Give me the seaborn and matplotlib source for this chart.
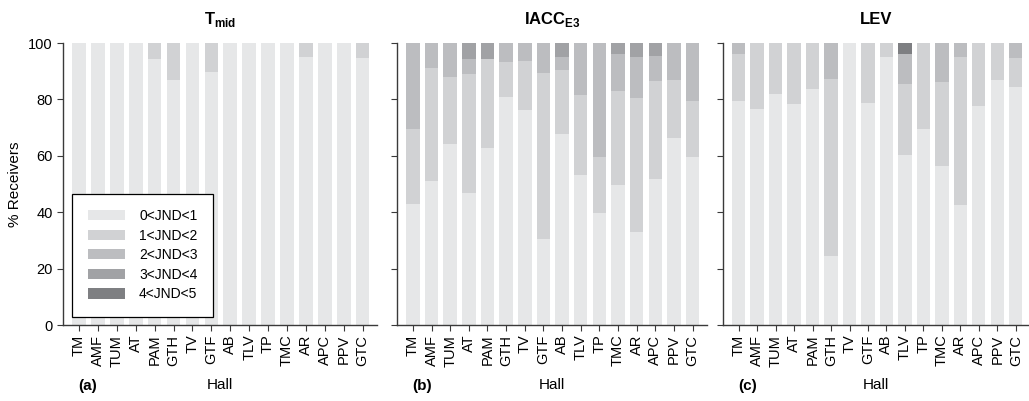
import numpy as np
import pandas as pd
import matplotlib
matplotlib.use("Agg")
import matplotlib.pyplot as plt
from matplotlib.patches import Patch
import seaborn as sns

# --- Halls (same order in all three panels) ---
halls = ["TM", "AMF", "TUM", "AT", "PAM", "GTH", "TV", "GTF",
         "AB", "TLV", "TP", "TMC", "AR", "APC", "PPV", "GTC"]
classes = ["0<JND<1", "1<JND<2", "2<JND<3", "3<JND<4", "4<JND<5"]
colors = ["#e6e7e8", "#d1d2d4", "#bcbdc0", "#a1a2a5", "#7e7f82"]

# --- T_mid (% receivers per JND class) ---
tmid_0 = [100, 100, 100, 100, 94.2, 87.0, 100, 89.7, 100, 100, 100, 100, 95.0, 100, 100, 94.7]
tmid_1 = [0, 0, 0, 0, 5.8, 13.0, 0, 10.3, 0, 0, 0, 0, 5.0, 0, 0, 5.3]
tmid_2 = [0] * 16
tmid_3 = [0] * 16
tmid_4 = [0] * 16

# --- IACC_E3 ---
iacc_0 = [42.9, 51.0, 64.2, 46.9, 62.8, 80.8, 76.2, 30.5, 67.8, 53.2, 39.7, 49.6, 33.1, 51.7, 66.4, 59.5]
iacc_1 = [26.5, 40.1, 23.8, 42.1, 31.4, 12.5, 17.5, 58.9, 22.6, 28.5, 19.8, 33.3, 47.3, 34.7, 20.6, 20.1]
iacc_2 = [30.6, 8.9, 12.0, 5.2, 0, 6.7, 6.3, 10.6, 4.6, 18.3, 40.5, 13.3, 14.6, 9.0, 13.0, 20.4]
iacc_3 = [0, 0, 0, 5.8, 5.8, 0, 0, 0, 5.0, 0, 0, 3.8, 5.0, 4.6, 0, 0]
iacc_4 = [0] * 16

# --- LEV ---
lev_0 = [79.6, 76.6, 81.9, 78.5, 83.8, 24.6, 100, 78.9, 95.0, 60.3, 69.5, 56.3, 42.5, 77.8, 87.0, 84.5]
lev_1 = [16.7, 23.4, 18.1, 21.5, 16.2, 62.5, 0, 21.1, 5.0, 25.1, 30.5, 29.9, 52.5, 22.2, 13.0, 10.2]
lev_2 = [3.7, 0, 0, 0, 0, 12.9, 0, 0, 0, 10.6, 0, 13.8, 5.0, 0, 0, 5.3]
lev_3 = [0] * 16
lev_4 = [0, 0, 0, 0, 0, 0, 0, 0, 0, 4.0, 0, 0, 0, 0, 0, 0]

panels = [
    (r"$\mathbf{T}_{\mathbf{mid}}$", [tmid_0, tmid_1, tmid_2, tmid_3, tmid_4], "(a)"),
    (r"$\mathbf{IACC}_{\mathbf{E3}}$", [iacc_0, iacc_1, iacc_2, iacc_3, iacc_4], "(b)"),
    ("LEV", [lev_0, lev_1, lev_2, lev_3, lev_4], "(c)"),
]

sns.set_style("ticks")
plt.rcParams["font.family"] = ["Liberation Sans", "DejaVu Sans"]
plt.rcParams["mathtext.fontset"] = "custom"
plt.rcParams["mathtext.rm"] = "Liberation Sans"
plt.rcParams["mathtext.bf"] = "Liberation Sans:bold"
plt.rcParams["text.color"] = "black"
plt.rcParams["axes.labelcolor"] = "black"
plt.rcParams["xtick.labelcolor"] = "black"
plt.rcParams["ytick.labelcolor"] = "black"

fig = plt.figure(figsize=(10.29, 4.01), dpi=100)
axes_pos = [
    [0.0612, 0.1895, 0.305, 0.703],
    [0.3858, 0.1895, 0.301, 0.703],
    [0.7026, 0.1895, 0.298, 0.703],
]
spine_col = "#3a3a3a"

for i, (title, layers, tag) in enumerate(panels):
    ax = fig.add_axes(axes_pos[i])
    df = pd.DataFrame({"Hall": halls})
    for k, cls in enumerate(classes):
        df[cls] = layers[k]
    cum = df[classes].cumsum(axis=1)
    # draw cumulative totals from the top class down so the bars stack
    for k in range(len(classes) - 1, -1, -1):
        sns.barplot(x=df["Hall"], y=cum[classes[k]], color=colors[k],
                    width=0.72, ax=ax, saturation=1, linewidth=0)
    ax.set_ylim(0, 100)
    ax.set_xlim(-0.85, 15.75)
    ax.set_yticks([0, 20, 40, 60, 80, 100])
    ax.tick_params(axis="x", labelrotation=90, labelsize=10.5, length=4,
                   color=spine_col, pad=3)
    ax.tick_params(axis="y", labelsize=10.5, length=4, color=spine_col)
    for side in ["top", "right"]:
        ax.spines[side].set_visible(False)
    for side in ["left", "bottom"]:
        ax.spines[side].set_color(spine_col)
        ax.spines[side].set_linewidth(1.0)
    ax.set_title(title, fontsize=12, fontweight="bold", pad=14)
    ax.set_xlabel("Hall", fontsize=11, labelpad=8)
    if i == 0:
        ax.set_ylabel("% Receivers", fontsize=11)
        ax.set_yticklabels(["0", "20", "40", "60", "80", "100"])
        handles = [Patch(facecolor=c, edgecolor="none") for c in colors]
        leg = ax.legend(handles, classes, loc="lower left",
                        bbox_to_anchor=(0.03, 0.03), borderaxespad=0,
                        fontsize=10, handlelength=2.7, handleheight=0.75,
                        labelspacing=0.4, frameon=True, fancybox=False,
                        framealpha=1, edgecolor="black", borderpad=1.1,
                        handletextpad=1.0)
        leg.get_frame().set_linewidth(0.9)
    else:
        ax.set_ylabel("")
        ax.set_yticklabels([])
    ax.text(0.05, -0.215, tag, transform=ax.transAxes, fontsize=11,
            fontweight="bold", va="center", ha="left")

fig.savefig("out.png", dpi=100)
